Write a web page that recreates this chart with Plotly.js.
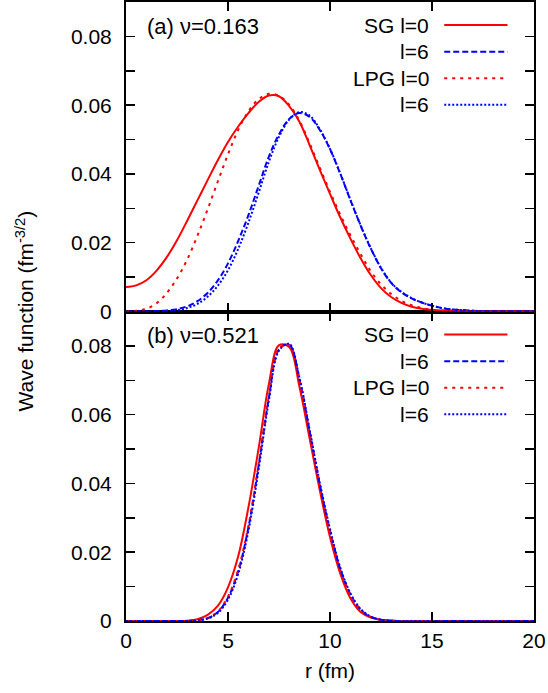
<!DOCTYPE html>
<html>
<head>
<meta charset="utf-8">
<script src="https://cdn.plot.ly/plotly-3.0.1.min.js"></script>
<style>html,body{margin:0;padding:0;background:#fff;}#chart{width:548px;height:693px;}</style>
</head>
<body>
<div id="chart"></div>
<script>
// radial grid (fm)
var r = [0,0.5,1,1.5,2,2.5,3,3.5,4,4.5,5,5.5,6,6.5,7,7.5,8,8.5,9,9.5,10,10.5,11,11.5,12,12.5,13,13.5,14,14.5,15,15.5,16,16.5,17,17.5,18,18.5,19,19.5,20];

// panel (a) nu = 0.163
var aSG0  = [0.0071,0.0076,0.0091,0.0119,0.0158,0.0207,0.0264,0.0323,0.0382,0.0440,0.0493,0.0538,0.0577,0.0609,0.0628,0.0626,0.0597,0.0552,0.0484,0.0412,0.0342,0.0274,0.0212,0.0155,0.0106,0.0068,0.0042,0.0025,0.0014,0.0008,0.0005,0.0003,0.0002,0.0001,0,0,0,0,0,0,0];
var aSG6  = [0,0,0,0.0001,0.0003,0.0007,0.0015,0.0030,0.0054,0.0090,0.0140,0.0205,0.0280,0.0365,0.0450,0.0515,0.0560,0.0577,0.0566,0.0528,0.0472,0.0401,0.0324,0.0250,0.0183,0.0126,0.0083,0.0056,0.0038,0.0026,0.0017,0.0010,0.0006,0.0004,0.0002,0.0001,0,0,0,0,0];
var aLPG0 = [0,0.0002,0.0008,0.0024,0.0054,0.0096,0.0151,0.0220,0.0297,0.0378,0.0457,0.0528,0.0582,0.0617,0.0633,0.0627,0.0601,0.0555,0.0489,0.0418,0.0348,0.0282,0.0222,0.0167,0.0117,0.0079,0.0051,0.0031,0.0018,0.0010,0.0005,0.0003,0.0002,0.0001,0,0,0,0,0,0,0];
var aLPG6 = [0,0,0,0,0.0001,0.0004,0.0010,0.0022,0.0043,0.0075,0.0120,0.0182,0.0258,0.0345,0.0435,0.0508,0.0558,0.0580,0.0570,0.0530,0.0473,0.0402,0.0325,0.0251,0.0184,0.0127,0.0084,0.0057,0.0039,0.0026,0.0017,0.0010,0.0006,0.0004,0.0002,0.0001,0,0,0,0,0];

// panel (b) nu = 0.521
var bSG0  = [0,0,0,0,0,0,0.0001,0.0005,0.0018,0.0044,0.0098,0.0188,0.0330,0.0502,0.0688,0.0802,0.0797,0.0682,0.0531,0.0380,0.0244,0.0138,0.0066,0.0026,0.0010,0.0003,0.0001,0,0,0,0,0,0,0,0,0,0,0,0,0,0];
var bSG6  = [0,0,0,0,0,0,0,0.0002,0.0008,0.0026,0.0068,0.0145,0.0272,0.0452,0.0648,0.0790,0.0804,0.0704,0.0552,0.0397,0.0263,0.0152,0.0078,0.0033,0.0012,0.0004,0.0001,0,0,0,0,0,0,0,0,0,0,0,0,0,0];
var bLPG0 = [0,0,0,0,0,0,0,0.0002,0.0009,0.0028,0.0071,0.0149,0.0276,0.0456,0.0652,0.0792,0.0803,0.0701,0.0548,0.0393,0.0260,0.0150,0.0076,0.0032,0.0011,0.0004,0.0001,0,0,0,0,0,0,0,0,0,0,0,0,0,0];
var bLPG6 = [0,0,0,0,0,0,0,0.0001,0.0007,0.0023,0.0062,0.0137,0.0262,0.0440,0.0640,0.0786,0.0806,0.0708,0.0557,0.0402,0.0268,0.0156,0.0081,0.0035,0.0013,0.0004,0.0001,0,0,0,0,0,0,0,0,0,0,0,0,0,0];

var seriesNames = ['SG l=0', 'l=6', 'LPG l=0', 'l=6'];
var panelLabels = ['(a) \u03bd=0.163', '(b) \u03bd=0.521'];
var xTickVals = [0,5,10,15,20];
var yTickVals = [0,0.01,0.02,0.03,0.04,0.05,0.06,0.07,0.08];
var yTickText = ['0',' ','0.02',' ','0.04',' ','0.06',' ','0.08'];

var RED = '#ff0000', BLUE = '#0000ff';
var styles = [
  {color: RED,  dash: 'solid',   width: 2},
  {color: BLUE, dash: '6px,3px', width: 2},
  {color: RED,  dash: '3px,5px', width: 2},
  {color: BLUE, dash: '2px,2px', width: 2}
];
var FONT = 'Liberation Sans, Arial, Helvetica, sans-serif';

var panelA = [aSG0, aSG6, aLPG0, aLPG6];
var panelB = [bSG0, bSG6, bLPG0, bLPG6];
var traces = [];
panelA.forEach(function(ys, i){
  traces.push({x: r, y: ys, xaxis: 'x2', yaxis: 'y2', type: 'scatter', mode: 'lines',
    line: {color: styles[i].color, dash: styles[i].dash, width: styles[i].width, shape: 'spline', smoothing: 1},
    showlegend: false, name: seriesNames[i]});
});
panelB.forEach(function(ys, i){
  traces.push({x: r, y: ys, xaxis: 'x', yaxis: 'y', type: 'scatter', mode: 'lines',
    line: {color: styles[i].color, dash: styles[i].dash, width: styles[i].width, shape: 'spline', smoothing: 1},
    showlegend: false, name: seriesNames[i]});
});

// legend rows (text + sample) in each panel
var legendY = [0.0833, 0.0755, 0.0678, 0.0601];
var annotations = [];
var shapes = [];
[['x2','y2'],['x','y']].forEach(function(ax, p){
  annotations.push({xref: ax[0], yref: ax[1], x: 0.95, y: 0.0830, xanchor: 'left', yanchor: 'middle',
    text: panelLabels[p], showarrow: false, font: {family: FONT, size: 22, color: '#000'}});
  seriesNames.forEach(function(nm, i){
    annotations.push({xref: ax[0], yref: ax[1], x: 14.95, y: legendY[i], xanchor: 'right', yanchor: 'middle',
      text: nm, showarrow: false, font: {family: FONT, size: 21, color: '#000'}});
    shapes.push({type: 'line', xref: ax[0], yref: ax[1], x0: 15.6, x1: 18.7, y0: legendY[i], y1: legendY[i],
      line: {color: styles[i].color, dash: styles[i].dash, width: styles[i].width}});
  });
});
annotations.push({xref: 'paper', yref: 'paper', x: -0.25, y: 0.5, xanchor: 'center', yanchor: 'middle',
  textangle: -90, text: 'Wave function (fm<sup>-3/2</sup>)', showarrow: false,
  font: {family: FONT, size: 21, color: '#000'}});

var axisCommon = {
  showgrid: false, zeroline: false, showline: true, linecolor: '#000', linewidth: 2,
  mirror: 'allticks', ticks: 'inside', ticklen: 9, tickwidth: 1.5, tickcolor: '#000',
  tickfont: {family: FONT, size: 21, color: '#000'}
};
function ax(extra){ return Object.assign({}, axisCommon, extra); }

var layout = {
  width: 548, height: 693,
  margin: {l: 126, r: 14, t: 2, b: 72},
  paper_bgcolor: '#fff', plot_bgcolor: '#fff',
  showlegend: false,
  xaxis: ax({range: [0, 20], tickvals: xTickVals, anchor: 'y', domain: [0, 1],
    title: {text: 'r (fm)', font: {family: FONT, size: 21, color: '#000'}, standoff: 12}}),
  xaxis2: ax({range: [0, 20], tickvals: xTickVals, anchor: 'y2', matches: 'x', showticklabels: false}),
  yaxis: ax({range: [0, 0.09], tickvals: yTickVals, ticktext: yTickText, domain: [0, 0.5], anchor: 'x', ticklabelstandoff: 8}),
  yaxis2: ax({range: [0, 0.09], tickvals: yTickVals, ticktext: yTickText, domain: [0.5, 1], anchor: 'x2', ticklabelstandoff: 8}),
  annotations: annotations,
  shapes: shapes
};

Plotly.newPlot('chart', traces, layout, {displayModeBar: false, staticPlot: true});
</script>
</body>
</html>
